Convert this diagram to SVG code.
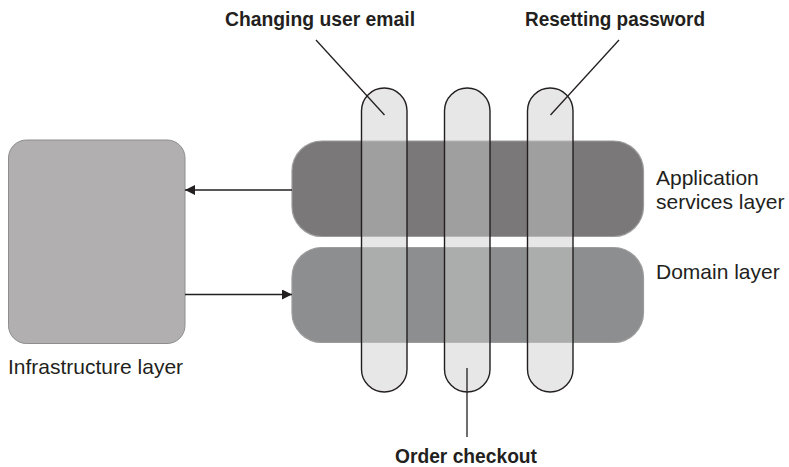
<svg xmlns="http://www.w3.org/2000/svg" width="789" height="467" viewBox="0 0 789 467">
  <defs>
    <style>
      .label { font-family: "Liberation Sans", Arial, sans-serif; font-size: 21px; fill: #231f20; }
      .title { font-family: "Liberation Sans", Arial, sans-serif; font-size: 21px; font-weight: bold; fill: #231f20; }
      .pillbase { fill: #e6e7e6; stroke: none; }
      .pill { fill: #e6e7e6; fill-opacity: 0.35; stroke: #231f20; stroke-width: 1.4; }
      .layer { stroke: #9c9c9c; stroke-width: 1.2; }
      .conn { stroke: #231f20; stroke-width: 1.3; fill: none; }
    </style>
    <marker id="arrow" viewBox="0 0 10 10" refX="10" refY="5" markerWidth="10" markerHeight="10" markerUnits="userSpaceOnUse" orient="auto">
      <path d="M0,0 L10,5 L0,10 Z" fill="#231f20"/>
    </marker>
  </defs>
  <rect width="789" height="467" fill="#ffffff"/>

  <!-- pill bases (under layers) -->
  <g id="pill-bases">
    <rect class="pillbase" x="361.5" y="88" width="45.5" height="304" rx="22.75"/>
    <rect class="pillbase" x="444.5" y="88" width="45.5" height="304" rx="22.75"/>
    <rect class="pillbase" x="527.5" y="88" width="45.5" height="304" rx="22.75"/>
  </g>

  <g id="infrastructure">
    <rect x="8.5" y="140" width="176.5" height="203.5" rx="18" fill="#b1afb0" stroke="#8e8e8e" stroke-width="1"/>
    <text class="label" x="8" y="374">Infrastructure layer</text>
  </g>

  <g id="application-services">
    <rect class="layer" x="292" y="141" width="351.5" height="95.5" rx="30" fill="#7b787a"/>
    <text class="label" x="656" y="185">Application</text>
    <text class="label" x="656" y="209">services layer</text>
  </g>

  <g id="domain">
    <rect class="layer" x="292" y="247.5" width="351.5" height="95" rx="30" fill="#8d8e90"/>
    <text class="label" x="656" y="279">Domain layer</text>
  </g>

  <g id="changing-user-email">
    <rect class="pill" x="361.5" y="88" width="45.5" height="304" rx="22.75"/>
    <text class="title" x="225" y="26" textLength="190" lengthAdjust="spacingAndGlyphs">Changing user email</text>
  </g>

  <g id="order-checkout">
    <rect class="pill" x="444.5" y="88" width="45.5" height="304" rx="22.75"/>
    <text class="title" x="395" y="463" textLength="142" lengthAdjust="spacingAndGlyphs">Order checkout</text>
  </g>

  <g id="resetting-password">
    <rect class="pill" x="527.5" y="88" width="45.5" height="304" rx="22.75"/>
    <text class="title" x="525" y="26" textLength="180" lengthAdjust="spacingAndGlyphs">Resetting password</text>
  </g>

  <g id="connectors">
    <line class="conn" x1="292" y1="190" x2="185" y2="190" marker-end="url(#arrow)"/>
    <line class="conn" x1="185" y1="294.5" x2="292" y2="294.5" marker-end="url(#arrow)"/>
    <line class="conn" x1="316" y1="40" x2="384.5" y2="115"/>
    <line class="conn" x1="619" y1="40" x2="550.5" y2="115"/>
    <line class="conn" x1="467" y1="368" x2="467" y2="437"/>
  </g>
</svg>
